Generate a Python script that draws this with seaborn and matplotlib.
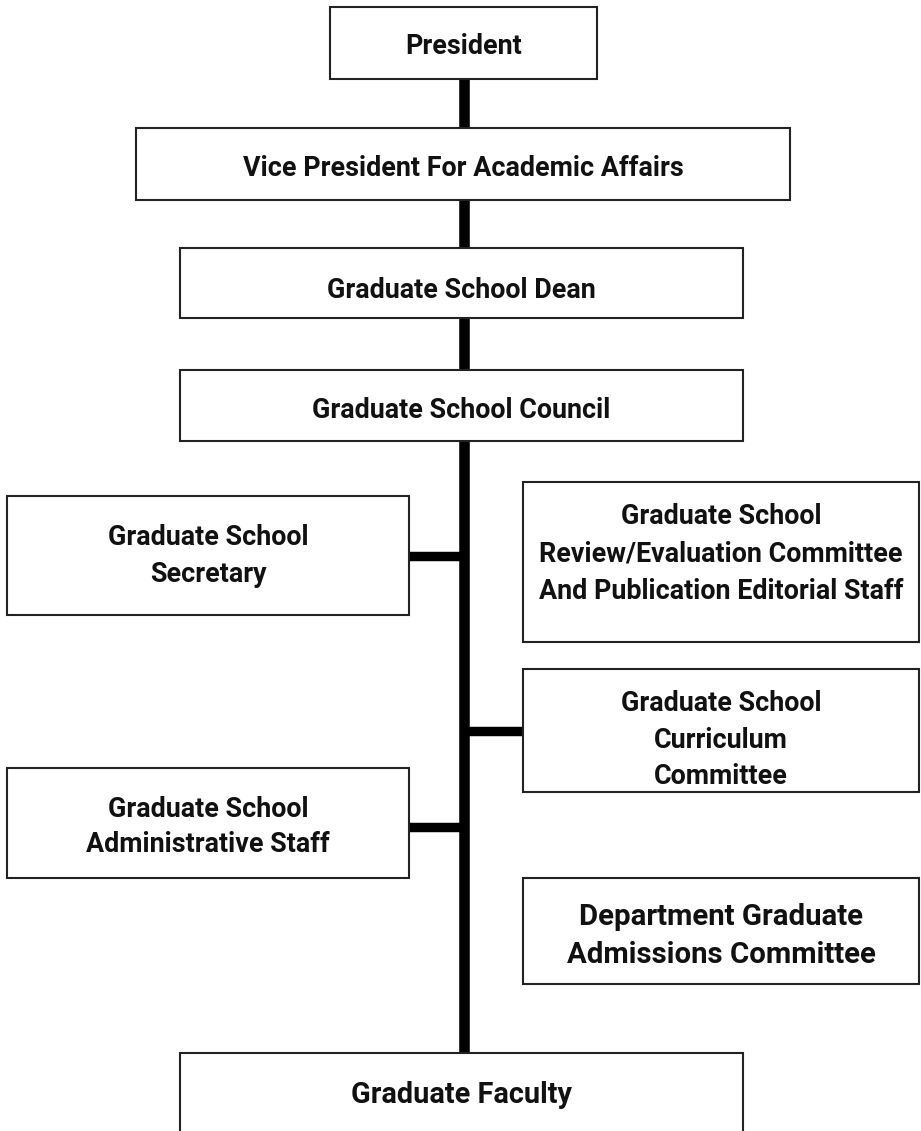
import matplotlib
matplotlib.use("Agg")
import matplotlib.pyplot as plt
import seaborn as sns
from matplotlib.patches import Rectangle

sns.set_theme(style="white")
plt.rcParams['font.family'] = ['Roboto', 'DejaVu Sans']

# ---- content ----
labels = [
    "President",
    "Vice President For Academic Affairs",
    "Graduate School Dean",
    "Graduate School Council",
    "Graduate School\nSecretary",
    "Graduate School\nReview/Evaluation Committee\nAnd Publication Editorial Staff",
    "Graduate School\nCurriculum\nCommittee",
    "Graduate School\nAdministrative Staff",
    "Department Graduate\nAdmissions Committee",
    "Graduate Faculty",
]

# ---- layout (pixel space: x0, y0, x1, y1), text y, font size ----
box_x0 = [330, 136, 180, 180, 7, 523, 523, 7, 523, 180]
box_y0 = [7, 128, 248, 370, 496, 482, 669, 768, 878, 1053]
box_x1 = [597, 790, 743, 743, 409, 919, 919, 409, 919, 743]
box_y1 = [79, 200, 318, 441, 615, 642, 792, 878, 984, 1145]
text_y = [46, 168, 290, 410, 556, 554, 740, 827, 936, 1095]
font_sz = [19.4, 19.4, 19.4, 19.4, 19.4, 19.4, 19.4, 19.4, 21.2, 20.8]
line_sp = [1.45, 1.45, 1.45, 1.45, 1.45, 1.5, 1.45, 1.4, 1.41, 1.4]

trunk_x = 463.5
trunk_y0, trunk_y1 = 79, 1053
branch_y = [556, 731, 827]
branch_x0 = [409, 463, 409]
branch_x1 = [463, 523, 463]

fig = plt.figure(figsize=(9.21, 11.31), dpi=100)
ax = fig.add_axes([0, 0, 1, 1])
ax.set_xlim(0, 921)
ax.set_ylim(1131, 0)
ax.axis("off")

# trunk and branches
ax.plot([trunk_x, trunk_x], [trunk_y0, trunk_y1], color="black", lw=7.6,
        solid_capstyle="butt", zorder=1)
for y, a, b in zip(branch_y, branch_x0, branch_x1):
    ax.plot([a, b], [y, y], color="black", lw=6.8, solid_capstyle="butt", zorder=1)

for lab, x0, y0, x1, y1, ty, fs, ls in zip(labels, box_x0, box_y0, box_x1, box_y1,
                                            text_y, font_sz, line_sp):
    ax.add_patch(Rectangle((x0, y0), x1 - x0, y1 - y0, facecolor="white",
                           edgecolor="#222222", lw=1.5, zorder=2))
    ax.text((x0 + x1) / 2, ty, lab, ha="center", va="center", fontsize=fs,
            fontweight="bold", color="#111111", linespacing=ls, zorder=3)

fig.savefig("out.png", dpi=100, facecolor="white")
